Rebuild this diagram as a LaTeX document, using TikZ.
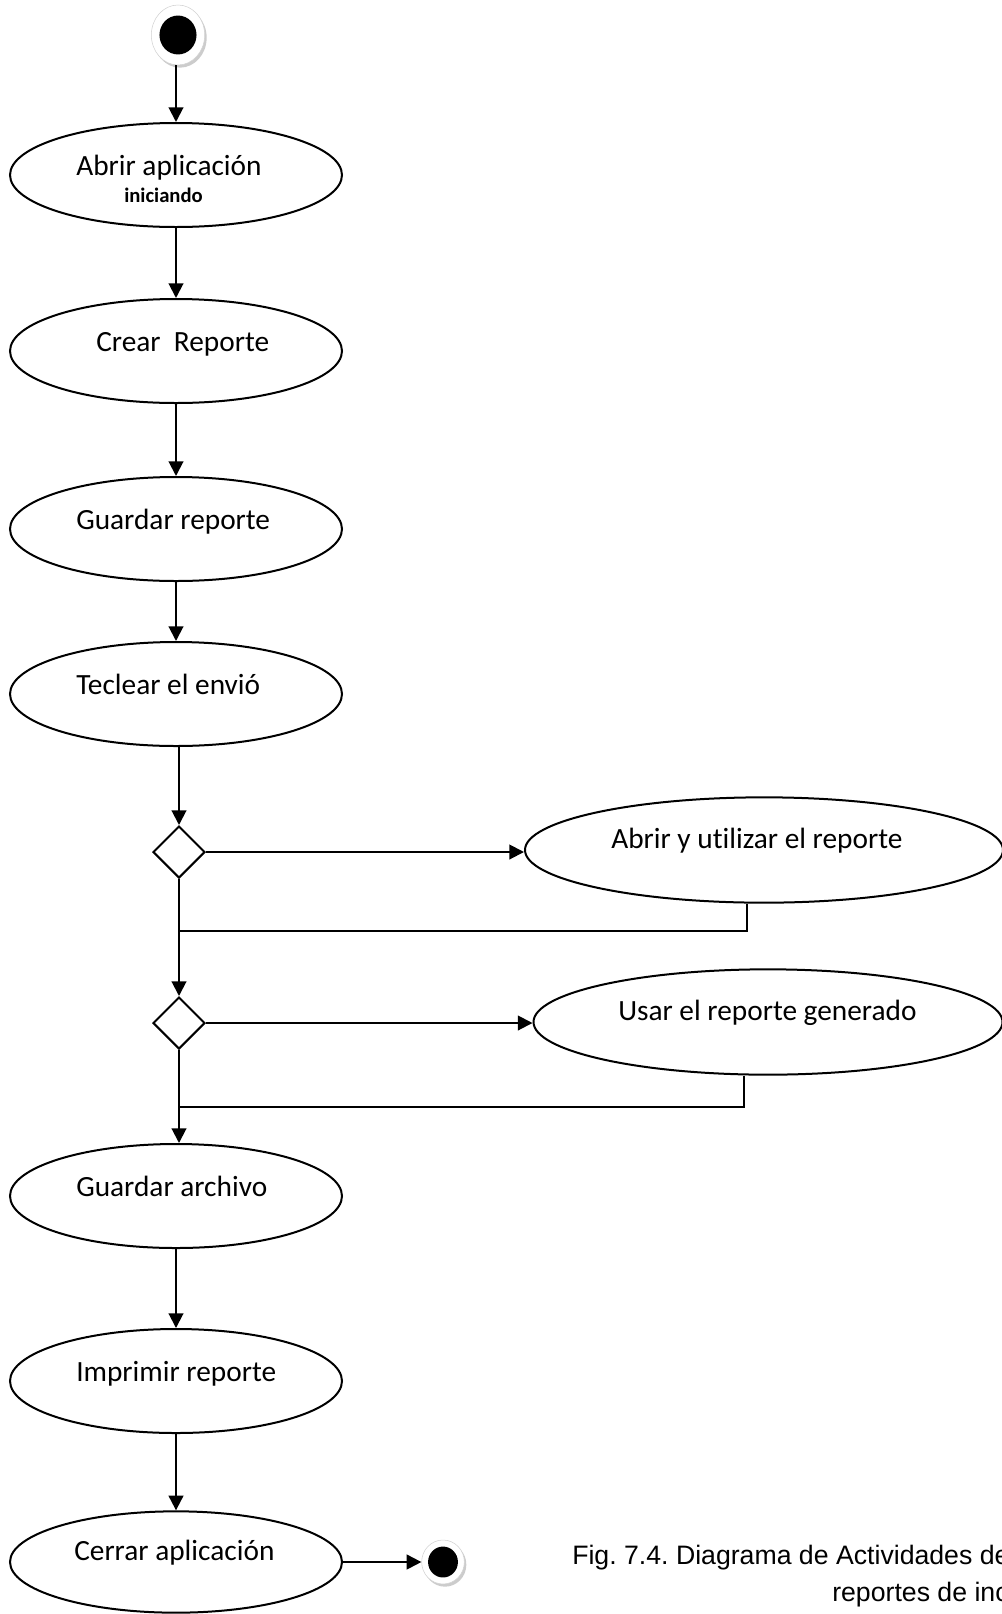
\documentclass[tikz,border=0pt]{standalone}
\usepackage{fontspec}
\setmainfont{Carlito}[Ligatures=NoCommon]
\newfontfamily\capfont{Liberation Sans}
\usetikzlibrary{shapes,arrows.meta,calc,positioning,shadows}

\tikzset{
	act/.style={ellipse, draw, line width=1.5pt, inner sep=0pt, minimum width=249pt, minimum height=78pt},
	acttext/.style={anchor=base west, inner sep=0pt, font=\fontsize{22}{26}\selectfont},
	dec/.style={diamond, draw, line width=1.5pt, inner sep=0pt, minimum width=39pt, minimum height=39pt},
	ring/.style={ellipse, fill=white, draw=gray!35, line width=0.4pt, inner sep=0pt,
		drop shadow={shadow xshift=1.5pt, shadow yshift=-2pt, fill=gray!40, opacity=1}},
	flow/.style={line width=1.5pt, -{Triangle[length=11pt,width=11pt]}},
	link/.style={line width=1.5pt}
}

\begin{document}
\frenchspacing
\begin{tikzpicture}[x=0.75pt, y=-0.75pt]
		\useasboundingbox (0,0) rectangle (1002,1614);
		% inicio
		\node[ring, minimum width=40pt, minimum height=45pt] (inicio) at (178,35) {};
		\fill (inicio.center) ellipse [x radius=13.9pt, y radius=14.6pt];
		% actividades
		\node[act] (abrir) at (176,175) {};
		\node[acttext] at (76,175) {Abrir aplicación};
		\node[acttext, font=\fontsize{15.5}{18}\selectfont\bfseries] at (124,202) {iniciando};
		\node[act] (crear) at (176,351) {};
		\node[acttext] at (96,351) {Crear\ \ Reporte};
		\node[act] (guardarR) at (176,529) {};
		\node[acttext] at (76,529) {Guardar reporte};
		\node[act] (teclear) at (176,694) {};
		\node[acttext] at (76,694) {Teclear el envió};
		\node[dec] (dec1) at (179,852) {};
		\node[act, minimum width=358.5pt, minimum height=79pt] (utilizar) at (764,850) {};
		\node[acttext] at (611,848) {Abrir y utilizar el reporte};
		\node[dec] (dec2) at (179,1023) {};
		\node[act, minimum width=351.75pt, minimum height=79pt] (usar) at (768,1022) {};
		\node[acttext] at (618,1020) {Usar el reporte generado};
		\node[act] (guardarA) at (176,1196) {};
		\node[acttext] at (76,1196) {Guardar archivo};
		\node[act] (imprimir) at (176,1381) {};
		\node[acttext] at (76,1381) {Imprimir reporte};
		\node[act, minimum height=76pt] (cerrar) at (176,1562) {};
		\node[acttext] at (74,1560) {Cerrar aplicación};
		% fin
		\node[ring, minimum width=32pt, minimum height=33pt] (fin) at (443,1562) {};
		\fill (fin.center) ellipse [x radius=11.2pt, y radius=11.6pt];
		% flujo
		\draw[flow] (inicio.south -| abrir.north) -- (abrir.north);
		\draw[flow] (abrir) -- (crear);
		\draw[flow] (crear) -- (guardarR);
		\draw[flow] (guardarR) -- (teclear);
		\draw[flow] (teclear.south -| dec1.north) -- (dec1.north);
		\draw[flow] (dec1.east) -- (dec1.east -| utilizar.west);
		\coordinate (j1) at (747,931);
		\draw[link] (utilizar.south -| j1) -- (j1) -- (j1 -| dec1);
		\draw[flow] (dec1.south) -- (dec2.north);
		\draw[flow] (dec2.east) -- (dec2.east -| usar.west);
		\coordinate (j2) at (744,1107);
		\draw[link] (usar.south -| j2) -- (j2) -- (j2 -| dec2);
		\draw[flow] (dec2.south) -- (dec2.south |- guardarA.north);
		\draw[flow] (guardarA) -- (imprimir);
		\draw[flow] (imprimir) -- (cerrar);
		\draw[flow] (cerrar.east) -- (cerrar.east -| fin.west);
		% titulo
		\node[anchor=base west, inner sep=0pt, font=\capfont\fontsize{20}{24}\selectfont] (cap1) at (572,1564) {Fig. 7.4. Diagrama de Actividades de};
		\node[anchor=base west, inner sep=0pt, font=\capfont\fontsize{20}{24}\selectfont] (cap2) at (832,1601) {reportes de inc};
	\end{tikzpicture}
\end{document}
